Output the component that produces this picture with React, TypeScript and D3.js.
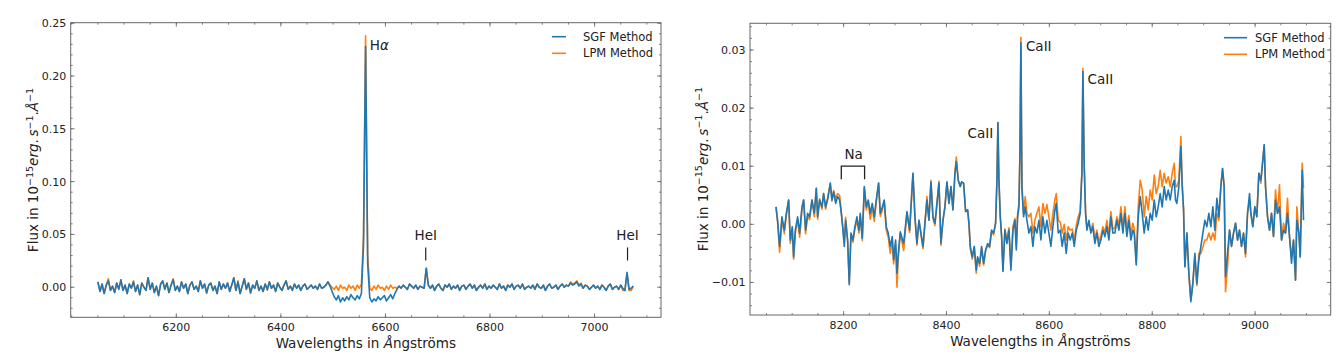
import React from "react";
import * as d3 from "d3";

const FONT = "'DejaVu Sans', 'Liberation Sans', sans-serif";
const BLUE = "#1f77b4";
const ORANGE = "#ff7f0e";
const INK = "#222";
const FRAME = "#666";

const seriesLabels = ["SGF Method", "LPM Method"];

// ---------- Left panel (values in 1e-3 flux units, 4 Å grid from 6050 Å) ----------
const leftStart = 6050;
const leftStep = 4;
const leftSGF = [
  5, -4, 3, -6, 2, 6, -3, 1, -5, 4, -2, 7, -3, 2, -6, 3,
  -1, 5, -4, 2, -7, 4, 0, -3, 9, -2, 4, -5, 1, -8, 3, 6,
  -2, 4, -5, 2, 7, -3, 1, -4, 5, -1, 3, -6, 2, 5, -2, 1,
  -4, 6, -1, 3, -5, 2, 4, -3, 1, -6, 5, -2, 3, -1, 4, -4,
  2, 9, -3, 5, -6, 1, 8, -2, 4, -5, 2, -1, 6, -3, 1, -4,
  3, -2, 5, -1, 2, -4, 4, 0, -3, 2, 6, -2, 1, -3, 3, -1,
  2, -3, 1, 3, -2, 0, 2, -1, 1, -2, 3, -1, 0, 2, 5, 1,
  -4, -9, -12, -8, -14, -10, -13, -9, -12, -7, -10, -12, -8, -11, -6, 40,
  228, 22, -10, -14, -11, -13, -9, -12, -10, -8, -13, -10, -7, -11, -6, -2,
  1, -1, 2, 0, -2, 3, 1, -1, 2, -2, 1, 0, -1, 18, 2, -1,
  2, -3, 1, 3, -1, -3, 2, 0, 3, -2, 1, -1, 2, -3, 1, 2,
  -2, 1, 3, -1, 2, -3, 0, 2, -1, 3, -2, 1, -1, 2, 0, -2,
  3, -1, 1, -3, 2, 0, 3, -2, 1, 2, -1, 3, -2, 0, 1, -1,
  2, -2, 3, 0, -1, 2, -3, 1, 3, -1, 0, 2, -2, 1, 3, 0,
  2, 1, 4, 2, 3, 5, 1, 3, -1, 2, 1, -2, 0, 2, -1, 1,
  -2, 2, 0, -3, 1, 3, -2, 0, 1, -2, 2, -1, -3, 14, -2, -1,
  1,
];
const leftLPM = [
  5, -4, 3, -6, 2, 8, -3, 1, -5, 4, -2, 7, -3, 2, -6, 3,
  -1, 6, -4, 2, -7, 4, 0, -3, 9, -2, 4, -5, 1, -8, 3, 6,
  -2, 4, -5, 2, 8, -3, 1, -4, 5, -1, 3, -6, 2, 5, -2, 1,
  -4, 6, -1, 3, -6, 2, 4, -3, 1, -6, 5, -2, 3, -1, 4, -4,
  2, 9, -3, 6, -6, 1, 8, -2, 4, -6, 2, -1, 6, -3, 1, -4,
  3, -3, 5, -1, 2, -4, 4, 0, -3, 2, 6, -2, 1, -3, 3, -1,
  2, -3, 1, 3, -2, 0, 2, -1, 1, -2, 3, -1, 0, 2, 5, 2,
  0, -2, 1, -3, 2, -1, 0, -3, 2, -1, 1, -3, 2, -1, 3, 48,
  238, 30, -1, -3, 1, -2, 2, -1, 0, -3, 1, -2, 2, -1, 0, -1,
  1, -1, 2, 0, -2, 3, 1, -1, 2, -2, 1, 0, -1, 18, 2, -1,
  2, -3, 1, 3, -1, -3, 2, 0, 3, -2, 1, -1, 2, -3, 1, 2,
  -2, 1, 3, -1, 2, -3, 0, 2, -1, 3, -2, 1, -1, 2, 0, -2,
  3, -1, 1, -3, 2, 0, 3, -2, 1, 2, -1, 3, -2, 0, 1, -1,
  2, -2, 3, 0, -1, 2, -3, 1, 3, -1, 0, 2, -2, 1, 3, 0,
  2, 1, 5, 3, 4, 6, 2, 4, -1, 2, 1, -2, 0, 2, -1, 1,
  -2, 2, 0, -3, 1, 3, -2, 0, 1, -2, 2, -3, -3, 13, -3, -3,
  1,
];
const leftWave = leftSGF.map((_, i) => leftStart + i * leftStep);
const leftXTicks = [6200, 6400, 6600, 6800, 7000];
const leftYTicks = [0, 0.05, 0.1, 0.15, 0.2, 0.25];

// ---------- Right panel (values in 1e-3 flux units) ----------
const rightWave = [
  8068.5, 8071.7, 8075.6, 8080.1, 8084.7, 8088.6, 8093.1, 8096.3, 8100.2, 8102.8,
  8106.1, 8110.6, 8114.5, 8119.0, 8122.3, 8126.1, 8130.0, 8133.9, 8138.5, 8143.0,
  8146.9, 8149.5, 8153.4, 8157.9, 8161.1, 8165.0, 8169.5, 8174.1, 8177.3, 8180.6,
  8184.5, 8188.3, 8192.2, 8194.8, 8198.1, 8201.3, 8203.9, 8207.8, 8211.0, 8214.3,
  8218.1, 8222.0, 8225.9, 8229.8, 8232.4, 8236.3, 8240.2, 8244.1, 8247.9, 8251.8,
  8255.7, 8259.6, 8263.5, 8268.0, 8271.3, 8275.2, 8279.0, 8282.9, 8286.8, 8290.7,
  8294.6, 8297.2, 8301.1, 8303.7, 8306.3,
  8310.2, 8316.7, 8323.2, 8328.3, 8334.8, 8338.7, 8342.6, 8346.5, 8350.4, 8354.3,
  8358.1, 8362.0, 8365.9, 8369.8, 8373.7, 8377.6, 8381.5, 8385.4, 8389.2, 8393.1,
  8397.0, 8400.9, 8404.8, 8408.7, 8412.6, 8416.5, 8419.1, 8422.9, 8426.8, 8429.4,
  8433.3, 8437.2, 8441.1, 8443.7, 8446.3, 8450.2, 8454.0, 8457.9, 8460.5, 8464.4,
  8468.3, 8472.2, 8476.1, 8480.0, 8483.8, 8487.7, 8491.6, 8495.5, 8498.1, 8500.0,
  8502.0, 8504.6, 8507.2, 8509.8, 8513.6, 8517.5, 8521.4, 8525.3, 8529.2, 8533.1,
  8535.7, 8538.3, 8540.9, 8542.8, 8544.7,
  8546.7, 8549.9, 8553.1, 8556.4, 8560.3, 8564.1, 8568.0, 8571.9, 8575.8, 8579.7,
  8583.6, 8587.5, 8591.4, 8595.2, 8599.1, 8603.0, 8606.9, 8610.8, 8613.4, 8617.3,
  8621.2, 8625.0, 8628.9, 8632.8, 8636.7, 8640.6, 8644.5, 8648.4, 8652.3, 8656.1,
  8660.0, 8663.3, 8665.2, 8667.8, 8670.4, 8673.0, 8676.9, 8680.8, 8684.6, 8688.5,
  8692.4, 8696.3, 8700.2, 8704.1, 8708.0, 8711.9, 8715.8, 8719.6, 8723.5, 8727.4,
  8731.3, 8735.2, 8739.1, 8743.0, 8746.9, 8750.7, 8754.6, 8758.5, 8762.4, 8765.0,
  8768.9, 8772.8, 8776.7, 8780.5, 8784.4, 8788.3, 8792.2, 8796.1, 8800.0, 8803.9,
  8807.8, 8811.6, 8815.5, 8819.4, 8823.3, 8827.2, 8831.1, 8835.0, 8838.9, 8842.7,
  8845.3, 8847.9, 8851.8, 8855.7, 8858.3, 8860.9, 8863.5, 8867.4, 8871.2, 8875.1,
  8879.0, 8882.9, 8886.8, 8890.7, 8894.6, 8898.5, 8902.3, 8906.2, 8910.1, 8914.0,
  8917.9, 8921.8, 8925.7, 8929.6, 8933.4, 8936.7, 8939.9, 8942.5, 8946.4, 8950.3,
  8954.2, 8958.1, 8962.0, 8965.9, 8969.7, 8973.6, 8977.5, 8981.4, 8985.3, 8989.2,
  8991.8, 8995.6, 8999.5, 9003.4, 9007.3, 9011.2, 9013.8, 9017.7, 9020.3, 9024.2,
  9028.0, 9031.9, 9035.8, 9039.7, 9043.6, 9047.5, 9051.4, 9055.3, 9059.1, 9063.0,
  9066.9, 9070.8, 9074.7, 9078.6, 9081.2, 9085.1, 9087.7, 9091.6, 9094.2,
];
const rightSGF = [
  3.0, 0.7, -3.8, 1.3, -1.0, 1.9, 4.2, -2.7, -0.4, -5.6,
  -1.0, 1.3, -1.5, 3.0, 4.2, -1.0, 1.9, 1.3, 4.2, 1.9,
  6.2, 1.3, 4.2, 3.0, 5.3, 3.0, 4.5, 7.1, 4.2, 5.6,
  3.6, 4.8, 4.2, 2.5, -0.4, -3.8, 0.7, -2.7, -10.4, -1.5,
  -2.7, -0.4, 1.3, -1.0, 1.9, -2.4, 6.5, 3.0, 4.2, 1.9,
  3.6, 1.3, 4.2, 7.1, 1.9, 3.0, 4.2, -0.4, -1.5, -3.8,
  -2.1, -6.1, -2.7, -8.4, -5.0,
  -1.3, -3.3, 2.2, -1.0, 8.8, 1.3, -3.3, 0.7, -1.5, -3.8,
  0.2, 4.2, 0.7, 7.3, 1.3, 0.2, 3.6, 7.1, -3.3, 0.7,
  3.0, 7.3, 3.6, 6.5, 2.5, 8.8, 10.8, 7.6, 6.5, 7.3,
  7.1, 2.2, 2.5, 0.2, -3.8, -5.6, -3.8, -7.9, -5.6, -6.7,
  -3.8, -6.7, -4.4, -3.3, -3.8, -1.0, -1.5, 0.2, 7.6, 17.5,
  7.6, 1.3, -2.1, -8.1, -1.0, -3.3, -1.0, -7.9, -1.0, 0.7,
  -4.4, 1.3, 3.0, 12.0, 31.3,
  6.0, 1.3, 3.0, 0.7, -1.5, -0.4, -3.8, -0.4, -1.5, 0.7,
  -2.7, 1.3, -1.5, 0.7, -1.5, -3.8, -0.4, 2.5, 3.6, -1.5,
  -1.0, -3.8, -1.5, -5.0, -1.5, -2.7, -1.5, -3.8, -1.0, 0.2,
  1.9, 8.8, 26.3, 9.9, 1.9, -1.0, 0.7, -1.5, -0.4, -3.3,
  -1.5, -3.8, -2.7, -1.0, -2.1, -0.4, -2.7, 1.3, -1.5, -1.5,
  0.7, -1.0, 1.9, -1.5, 1.9, -2.1, 0.7, -2.7, -1.0, -1.5,
  -7.0, 1.3, 4.8, 1.9, -1.5, 1.3, -1.0, 1.9, 0.7, 4.2,
  1.3, 3.0, 5.3, 3.0, 6.5, 4.2, 5.9, 4.2, 6.5, 7.6,
  4.2, 3.6, 6.5, 13.4, 6.5, 2.5, -7.3, -1.5, -8.4, -13.3,
  -10.2, -5.0, -10.2, -6.1, -3.8, -1.5, 0.7, -0.4, 1.9, -0.4,
  3.0, -1.0, 4.5, 1.3, 6.5, 9.6, 6.5, -9.0, -5.0, -1.0,
  -3.8, -1.5, 0.2, -2.7, -1.0, -3.8, -1.5, -5.0, 1.9, 5.3,
  1.9, -0.4, 3.0, 1.3, 8.8, 7.6, 9.9, 13.7, 6.5, 1.3,
  -1.0, 1.9, -2.1, 4.2, 1.9, 3.0, -2.7, -1.0, -1.5, 1.9,
  -2.1, -6.7, -2.7, -9.6, 0.7, -1.5, -5.6, 9.3, 0.7,
];
const rightLPM = [
  3.0, 0.2, -4.8, 0.8, -1.6, 1.5, 4.2, -3.3, -1.0, -6.0,
  -1.5, 0.8, -2.2, 2.5, 4.2, -1.6, 1.4, 0.8, 4.2, 1.3,
  6.2, 0.9, 4.4, 2.6, 5.3, 2.6, 4.9, 7.0, 4.0, 5.8,
  4.4, 5.3, 5.0, 2.8, -0.2, -3.0, 1.2, -2.9, -10.0, -1.8,
  -3.1, -0.8, 0.7, -1.5, 1.5, -2.8, 6.3, 2.5, 3.8, 0.9,
  3.0, 0.5, 3.8, 7.1, 1.4, 2.4, 4.0, -1.0, -2.2, -5.0,
  -2.8, -6.8, -3.4, -10.8, -5.8,
  -1.5, -4.5, 2.0, -1.4, 8.8, 1.0, -3.6, 0.7, -1.8, -4.2,
  0.0, 4.8, 0.7, 7.6, 1.0, -0.2, 3.6, 7.4, -3.6, 0.5,
  3.0, 7.3, 3.6, 6.5, 2.5, 9.0, 11.6, 7.6, 6.5, 7.3,
  7.1, 2.2, 2.5, 0.0, -4.2, -6.0, -4.0, -8.4, -5.8, -7.2,
  -4.2, -7.0, -4.6, -3.6, -4.0, -1.2, -1.8, 0.2, 7.6, 17.5,
  7.6, 1.3, -2.1, -7.8, -0.8, -2.8, -0.6, -7.3, -0.4, 1.0,
  -3.8, 1.9, 3.6, 12.5, 32.2,
  7.0, 1.8, 4.8, 1.9, 1.3, 1.9, -1.5, 0.7, 1.9, 3.0,
  -0.4, 3.6, 1.9, 3.4, 1.3, -1.0, 1.9, 4.2, 5.3, 0.7,
  0.4, -1.5, 0.0, -2.7, -0.4, -1.0, -0.8, -2.9, -0.2, 1.3,
  2.3, 9.2, 26.8, 10.2, 2.2, -0.6, 0.2, -1.2, 0.2, -2.6,
  -1.0, -3.0, -2.0, -0.4, -1.4, 0.7, -2.0, 2.2, -0.8, -0.6,
  1.3, -0.2, 3.0, -0.6, 3.0, -1.2, 1.5, -1.7, 0.2, -0.8,
  -6.5, 3.0, 7.6, 5.9, 1.3, 4.8, 2.5, 5.9, 4.2, 8.5,
  5.3, 6.5, 9.3, 6.5, 8.8, 7.1, 8.2, 6.5, 8.8, 10.5,
  6.5, 6.5, 7.6, 15.1, 7.0, 2.8, -7.3, -1.5, -8.4, -13.0,
  -10.0, -5.5, -10.5, -5.0, -5.0, -3.9, -2.7, -2.7, -1.5, -2.7,
  -1.5, -2.7, 1.9, 0.7, 6.5, 9.6, 6.5, -11.6, -7.3, -1.0,
  -3.8, -1.5, 0.2, -2.7, -1.0, -3.8, -1.5, -5.6, 1.9, 4.2,
  1.9, -0.4, 3.0, 1.3, 8.8, 7.1, 9.9, 13.7, 6.5, 1.3,
  -1.0, 1.9, -2.1, 5.9, 1.9, 6.8, -2.7, 0.2, -1.5, 4.5,
  -2.1, -5.6, -2.7, -9.6, 3.0, -1.5, -5.6, 10.5, 6.2,
];
const rightXTicks = [8200, 8400, 8600, 8800, 9000];
const rightYTicks = [-0.01, 0, 0.01, 0.02, 0.03];

type Box = { left: number; right: number; top: number; bottom: number };

type PanelCfg = {
  id: string;
  box: Box;
  xDomain: [number, number];
  yDomain: [number, number];
  waves: number[];
  sgf: number[];
  lpm: number[];
  xTicks: number[];
  yTicks: number[];
  xMinor: number[];
  yMinor: number[];
  ylabelX: number;
  legend: { x1: number; x2: number; tx: number; y1: number; y2: number };
  annotate: (x: d3.ScaleLinear<number, number>, y: d3.ScaleLinear<number, number>) => React.ReactNode;
};

const fmtY = (v: number) => {
  const s = d3.format(".2f")(Math.abs(v) < 1e-9 ? 0 : v);
  return s.replace("-", "\u2212");
};

function YLabel({ x, y }: { x: number; y: number }) {
  const fs = 13.5;
  const sup = 9.5;
  return (
    <text
      transform={`translate(${x},${y}) rotate(-90)`}
      textAnchor="middle"
      fontFamily={FONT}
      fontSize={fs}
      fill={INK}
    >
      <tspan>{"Flux in 10"}</tspan>
      <tspan dy={-5.5} fontSize={sup}>{"\u221215"}</tspan>
      <tspan dy={5.5} fontStyle="italic">{"erg"}</tspan>
      <tspan>{"."}</tspan>
      <tspan fontStyle="italic">{"\u2009s"}</tspan>
      <tspan dy={-5.5} fontSize={sup}>{"\u22121"}</tspan>
      <tspan dy={5.5}>{"."}</tspan>
      <tspan fontStyle="italic">{"\u00C5"}</tspan>
      <tspan dy={-5.5} fontSize={sup}>{"\u22121"}</tspan>
    </text>
  );
}

function Panel({ cfg }: { cfg: PanelCfg }) {
  const { box } = cfg;
  const x = d3.scaleLinear().domain(cfg.xDomain).range([box.left, box.right]);
  const y = d3.scaleLinear().domain(cfg.yDomain).range([box.bottom, box.top]);
  const n = Math.min(cfg.waves.length, cfg.sgf.length, cfg.lpm.length);
  const idx = d3.range(n);
  const mk = (vals: number[]) =>
    d3
      .line<number>()
      .x((i) => x(cfg.waves[i]))
      .y((i) => y(vals[i] / 1000))(idx) || "";
  const majorLen = 4;
  const minorLen = 2;
  const clipId = `clip-${cfg.id}`;
  const cx = (box.left + box.right) / 2;
  return (
    <g>
      <defs>
        <clipPath id={clipId}>
          <rect x={box.left} y={box.top} width={box.right - box.left} height={box.bottom - box.top} />
        </clipPath>
      </defs>
      <g clipPath={`url(#${clipId})`}>
        <path d={mk(cfg.lpm)} fill="none" stroke={ORANGE} strokeWidth={1.6} strokeLinejoin="round" />
        <path d={mk(cfg.sgf)} fill="none" stroke={BLUE} strokeWidth={1.6} strokeLinejoin="round" />
      </g>
      <g stroke={FRAME} strokeWidth={0.8}>
        {cfg.xMinor.map((t) => (
          <g key={`xm${t}`}>
            <line x1={x(t)} x2={x(t)} y1={box.bottom} y2={box.bottom - minorLen} />
            <line x1={x(t)} x2={x(t)} y1={box.top} y2={box.top + minorLen} />
          </g>
        ))}
        {cfg.xTicks.map((t) => (
          <g key={`xM${t}`}>
            <line x1={x(t)} x2={x(t)} y1={box.bottom} y2={box.bottom - majorLen} />
            <line x1={x(t)} x2={x(t)} y1={box.top} y2={box.top + majorLen} />
          </g>
        ))}
        {cfg.yMinor.map((t) => (
          <g key={`ym${t}`}>
            <line x1={box.left} x2={box.left + minorLen} y1={y(t)} y2={y(t)} />
            <line x1={box.right} x2={box.right - minorLen} y1={y(t)} y2={y(t)} />
          </g>
        ))}
        {cfg.yTicks.map((t) => (
          <g key={`yM${t}`}>
            <line x1={box.left} x2={box.left + majorLen} y1={y(t)} y2={y(t)} />
            <line x1={box.right} x2={box.right - majorLen} y1={y(t)} y2={y(t)} />
          </g>
        ))}
      </g>
      <rect
        x={box.left}
        y={box.top}
        width={box.right - box.left}
        height={box.bottom - box.top}
        fill="none"
        stroke={FRAME}
        strokeWidth={1}
      />
      <g fontFamily={FONT} fontSize={11} fill={INK}>
        {cfg.xTicks.map((t) => (
          <text key={`xl${t}`} x={x(t)} y={box.bottom + 14} textAnchor="middle">
            {String(t)}
          </text>
        ))}
        {cfg.yTicks.map((t) => (
          <text key={`yl${t}`} x={box.left - 4.5} y={y(t)} dy="0.36em" textAnchor="end">
            {fmtY(t)}
          </text>
        ))}
      </g>
      <text x={cx} y={box.bottom + 31} textAnchor="middle" fontFamily={FONT} fontSize={13.5} fill={INK}>
        <tspan>{"Wavelengths in "}</tspan>
        <tspan fontStyle="italic">{"\u00C5"}</tspan>
        <tspan>{"ngstr\u00F6ms"}</tspan>
      </text>
      <YLabel x={cfg.ylabelX} y={(box.top + box.bottom) / 2} />
      <g fontFamily={FONT} fontSize={11.5} fill={INK}>
        <line x1={cfg.legend.x1} x2={cfg.legend.x2} y1={cfg.legend.y1} y2={cfg.legend.y1} stroke={BLUE} strokeWidth={1.6} />
        <text x={cfg.legend.tx} y={cfg.legend.y1} dy="0.36em">{seriesLabels[0]}</text>
        <line x1={cfg.legend.x1} x2={cfg.legend.x2} y1={cfg.legend.y2} y2={cfg.legend.y2} stroke={ORANGE} strokeWidth={1.6} />
        <text x={cfg.legend.tx} y={cfg.legend.y2} dy="0.36em">{seriesLabels[1]}</text>
      </g>
      {cfg.annotate(x, y)}
    </g>
  );
}

const ANN = { fontFamily: FONT, fontSize: 13.5, fill: INK } as const;

const leftCfg: PanelCfg = {
  id: "left",
  box: { left: 70.7, right: 661, top: 22.7, bottom: 317.3 },
  xDomain: [5998, 7127],
  yDomain: [-0.0285, 0.2505],
  waves: leftWave,
  sgf: leftSGF,
  lpm: leftLPM,
  xTicks: leftXTicks,
  yTicks: leftYTicks,
  xMinor: d3.range(6000, 7127, 50),
  yMinor: d3.range(-20, 251, 10).map((v) => v / 1000),
  ylabelX: 38,
  legend: { x1: 552, x2: 566, tx: 583, y1: 36.7, y2: 53.3 },
  annotate: (x, y) => (
    <g>
      <text x={x(6570)} y={y(0.2246)} {...ANN}>
        <tspan>{"H"}</tspan>
        <tspan fontStyle="italic">{"\u03B1"}</tspan>
      </text>
      {[6677, 7063].map((w) => (
        <g key={w}>
          <text x={x(w)} y={y(0.0443)} textAnchor="middle" {...ANN}>{"HeI"}</text>
          <line x1={x(w)} x2={x(w)} y1={y(0.0377)} y2={y(0.0253)} stroke={INK} strokeWidth={1.2} />
        </g>
      ))}
    </g>
  ),
};

const rightCfg: PanelCfg = {
  id: "right",
  box: { left: 750, right: 1330.7, top: 23.3, bottom: 315 },
  xDomain: [8018, 9147],
  yDomain: [-0.0156, 0.0346],
  waves: rightWave,
  sgf: rightSGF,
  lpm: rightLPM,
  xTicks: rightXTicks,
  yTicks: rightYTicks,
  xMinor: d3.range(8050, 9147, 50),
  yMinor: d3.range(-14, 35, 2).map((v) => v / 1000),
  ylabelX: 707.5,
  legend: { x1: 1224, x2: 1247, tx: 1255, y1: 37.7, y2: 54.3 },
  annotate: (x, y) => (
    <g>
      <text x={x(8491)} y={y(0.01494)} textAnchor="end" {...ANN}>{"CaII"}</text>
      <text x={x(8554.5)} y={y(0.02983)} {...ANN}>{"CaII"}</text>
      <text x={x(8674.2)} y={y(0.02423)} {...ANN}>{"CaII"}</text>
      <text x={x(8219.4)} y={y(0.01133)} textAnchor="middle" {...ANN}>{"Na"}</text>
      <path
        d={`M${x(8195.5)},${y(0.00775)}V${y(0.01003)}H${x(8240.8)}V${y(0.00775)}`}
        fill="none"
        stroke={INK}
        strokeWidth={1.3}
      />
    </g>
  ),
};

export default function App() {
  return (
    <svg
      width={1344}
      height={361}
      viewBox="0 0 1344 361"
      style={{ position: "absolute", left: 0, top: 0, display: "block", background: "#fff" }}
    >
      <rect width={1344} height={361} fill="#fff" />
      <Panel cfg={leftCfg} />
      <Panel cfg={rightCfg} />
    </svg>
  );
}
